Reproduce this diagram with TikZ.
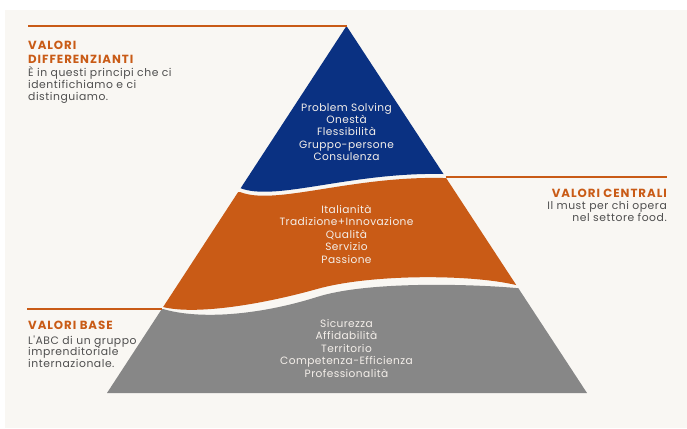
\documentclass[tikz,border=0pt]{standalone}
\usepackage{fontspec}
\setmainfont{Poppins}
\newfontfamily\pyrfont[LetterSpace=4]{Poppins}
\newfontfamily\sidefont[LetterSpace=5]{Poppins}
\newfontfamily\ttlfont[LetterSpace=8]{Poppins}
\definecolor{bg}{HTML}{F9F7F3}
\definecolor{navy}{HTML}{0A3182}
\definecolor{rust}{HTML}{C95B16}
\definecolor{stone}{HTML}{878787}
\definecolor{txt}{HTML}{4F4F4F}
\definecolor{lighttxt}{HTML}{F4EFEA}
\begin{document}
\begin{tikzpicture}[x=1pt,y=-1pt,
  accent/.style={draw=rust,line width=1.4pt},
  ttl/.style={inner sep=0,text=rust,font=\ttlfont\bfseries\fontsize{11.8}{13}\selectfont},
  body/.style={inner sep=0,text=txt,font=\sidefont\fontsize{10.8}{11.7}\selectfont},
  pyr/.style={inner sep=0,align=center,text=lighttxt,font=\pyrfont\fontsize{10.6}{12.45}\selectfont}]
\useasboundingbox (0,0) rectangle (687,428);
\fill[white] (0,0) rectangle (687,428);
\fill[bg] (5,10) rectangle (687,428);
\coordinate (apex) at (346.5,26);
\coordinate (bl) at (107,393);
\coordinate (br) at (587,393);
\begin{scope}
\clip (apex) -- (bl) -- (br) -- cycle;
\fill[stone] (100,309) -- (163,309) .. controls (200,320) and (260,315) .. (317,297)
  .. controls (367,281) and (470,284) .. (516,288) -- (600,288) -- (600,400) -- (100,400) -- cycle;
\fill[rust] (100,307) -- (163,307) .. controls (195,315) and (260,305) .. (317,289)
  .. controls (370,274) and (470,274) .. (516,285) -- (600,285) -- (600,178) -- (443,178)
  .. controls (350,176) and (275,206) .. (240,192) -- (100,192) -- cycle;
\fill[navy] (100,188) -- (240,188) .. controls (275,202) and (350,172) .. (443,174)
  -- (600,174) -- (600,0) -- (100,0) -- cycle;
\end{scope}
% connectors
\coordinate (l1) at (28,26);
\coordinate (c1) at (445.5,177);
\coordinate (r1) at (667,177);
\coordinate (l3) at (27,309);
\coordinate (b1) at (162,309);
\draw[accent] (l1) -- (apex);
\draw[accent] (c1) -- (r1);
\draw[accent] (l3) -- (b1);
% left top texts
\node[ttl,anchor=base west] (t1a) at (28,49.3) {VALORI};
\node[ttl,anchor=base west] (t1b) at (28,63.3) {DIFFERENZIANTI};
\node[body,anchor=base west] (d1) at (28,76.7) {È in questi principi che ci};
\node[body,anchor=base west] (d2) at (28,88.4) {identifichiamo e ci};
\node[body,anchor=base west] (d3) at (28,100.1) {distinguiamo.};
% right texts
\node[ttl,anchor=base east] (t2) at (667,197.7) {VALORI CENTRALI};
\node[body,anchor=base east] (c2) at (667,209.3) {Il must per chi opera};
\node[body,anchor=base east] (c3) at (667,221) {nel settore food.};
% bottom left texts
\node[ttl,anchor=base west] (t3) at (28,329) {VALORI BASE};
\node[body,anchor=base west] (b2) at (28,344) {L'ABC di un gruppo};
\node[body,anchor=base west] (b3) at (28,355.7) {imprenditoriale};
\node[body,anchor=base west] (b4) at (28,367.4) {internazionale.};
% pyramid texts
\node[pyr] (p1) at (346.5,132) {Problem Solving\\Onestà\\Flessibilità\\Gruppo-persone\\Consulenza};
\node[pyr] (p2) at (346.5,234.3) {Italianità\\Tradizione+Innovazione\\Qualità\\Servizio\\Passione};
\node[pyr] (p3) at (346.5,348.3) {Sicurezza\\Affidabilità\\Territorio\\Competenza-Efficienza\\Professionalità};
\end{tikzpicture}
\end{document}
